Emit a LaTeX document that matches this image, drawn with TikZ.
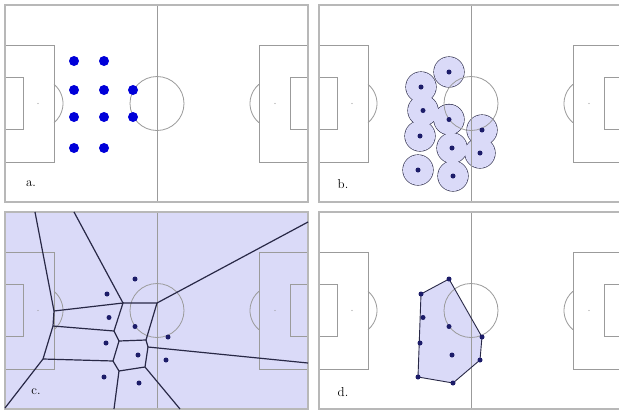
\documentclass[tikz,border=0pt]{standalone}
\usepackage{tikz}
\usetikzlibrary{positioning}
\definecolor{lav}{RGB}{218,218,248}
\definecolor{navy}{RGB}{28,28,105}
\definecolor{cellline}{RGB}{40,40,70}
\definecolor{pitchgray}{RGB}{155,155,155}
\tikzset{
  pline/.style={draw=pitchgray, line width=0.8pt},
  pframe/.style={draw=black!28, line width=2pt},
  bigdot/.style={circle, fill=blue!85!black, inner sep=0pt, minimum size=10pt},
  pdot/.style={circle, fill=navy, inner sep=0pt, minimum size=5pt},
  zone/.style={draw=cellline, line width=1.2pt},
  tag/.style={font=\fontsize{13}{15}\selectfont, inner sep=0pt},
}
\newcommand{\pitchlines}{%
  \draw[pline] (152,0) -- (152,197); %halfway
  \draw[pline] (152,98.5) circle[radius=27];
  \draw[pline] (0,40) rectangle (49,157);
  \draw[pline] (0,72.5) rectangle (18,124.5);
  \draw[pline] (303,40) rectangle (254,157);
  \draw[pline] (303,72.5) rectangle (285,124.5);
  \draw[pline] (33,98.5) ++(-50:25) arc[start angle=-50, end angle=50, radius=25];
  \draw[pline] (270,98.5) ++(130:25) arc[start angle=130, end angle=230, radius=25];
  \fill[pitchgray] (33,98.5) circle[radius=0.7];
  \fill[pitchgray] (270,98.5) circle[radius=0.7];
  \draw[pframe] (0,0) rectangle (303,197);
}
\newcommand{\players}{1/130/67, 2/102/82, 3/104/105.5, 4/130/114.5, 5/163/125, 6/101/131, 7/133/143, 8/161/148, 9/99/165, 10/134/171}

\begin{document}
\begin{tikzpicture}[x=1pt,y=-1pt]
  \useasboundingbox (0,0) rectangle (619,410);
  \clip (0,0) rectangle (619,410);
  \fill[white] (0,0) rectangle (619,410);
  % a.
  \begin{scope}[shift={(5,5)}]
    \pitchlines
    \foreach \n/\px/\py in {1/69/56, 2/99/56, 3/69/85, 4/99/85, 5/128/85, 6/69/112, 7/99/112, 8/128/112, 9/69/143, 10/99/143}
      \node[bigdot] (a\n) at (\px,\py) {};
    \node[tag] (la) at (26,179) {a.};
  \end{scope}
  % b.
  \begin{scope}[shift={(319,5)}]
    \foreach \n/\px/\py in \players
      \draw[cellline, line width=1.2pt] (\px,\py) circle[radius=15];
    \foreach \n/\px/\py in \players
      \fill[lav] (\px,\py) circle[radius=15];
    \pitchlines
    \foreach \n/\px/\py in \players
      \node[pdot] (b\n) at (\px,\py) {};
    \node[tag] (lb) at (24,179) {b.};
  \end{scope}
  % c.
  \begin{scope}[shift={(5,212)}]
    \fill[lav] (0,0) rectangle (303,197);
    \pitchlines
    \coordinate (vA) at (49,99);
    \coordinate (vB) at (118,91);
    \coordinate (vC) at (152,91);
    \coordinate (vD) at (48,114);
    \coordinate (vE) at (38,147);
    \coordinate (vF) at (109,119);
    \coordinate (vG) at (114,129);
    \coordinate (vH) at (141,128);
    \coordinate (vI) at (143,135);
    \coordinate (vJ) at (108,149);
    \coordinate (vK) at (114,159);
    \coordinate (vL) at (140,155);
    \coordinate (t1) at (30,0);
    \coordinate (t2) at (69,0);
    \coordinate (r1) at (303,10);
    \coordinate (r2) at (303,151);
    \coordinate (f1) at (109,197);
    \coordinate (f2) at (175,197);
    \coordinate (f0) at (0,196);
    \draw[zone] (t1) -- (vA) -- (vD) -- (vE) -- (f0);
    \draw[zone] (t2) -- (vB) -- (vC) -- (r1);
    \draw[zone] (vA) -- (vB) -- (vF) -- (vG) -- (vH) -- (vC);
    \draw[zone] (vD) -- (vF);
    \draw[zone] (vH) -- (vI) -- (r2);
    \draw[zone] (vE) -- (vJ) -- (vG);
    \draw[zone] (vJ) -- (vK) -- (vL) -- (vI);
    \draw[zone] (vK) -- (f1);
    \draw[zone] (vL) -- (f2);
    \foreach \n/\px/\py in \players
      \node[pdot] (c\n) at (\px,\py) {};
    \node[tag] (lc) at (31,180) {c.};
  \end{scope}
  % d.
  \begin{scope}[shift={(319,212)}]
    \foreach \n/\px/\py in \players
      \coordinate (h\n) at (\px,\py);
    \fill[lav] (h1) -- (h5) -- (h8) -- (h10) -- (h9) -- (h2) -- cycle;
    \pitchlines
    \draw[zone, line width=0.9pt] (h1) -- (h5) -- (h8) -- (h10) -- (h9) -- (h2) -- cycle;
    \foreach \n/\px/\py in \players
      \node[pdot] (d\n) at (h\n) {};
    \node[tag] (ld) at (24,180) {d.};
  \end{scope}
\end{tikzpicture}
\end{document}
